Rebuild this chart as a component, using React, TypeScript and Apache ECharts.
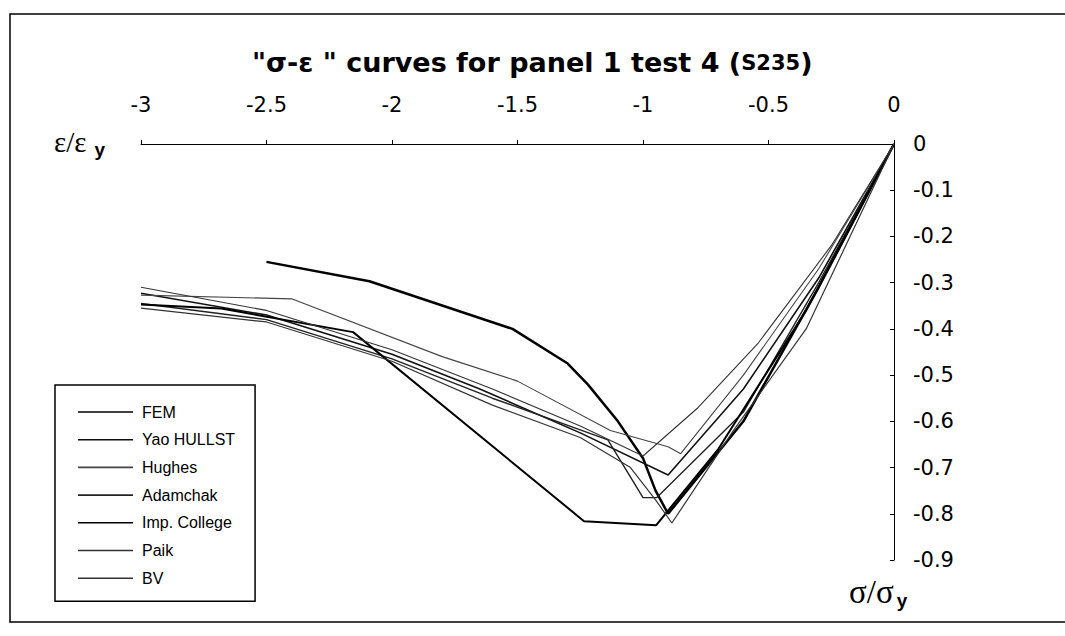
import React, { useEffect, useRef } from 'react';
import * as echarts from 'echarts';

// σ/σy (x) vs ε/εy (y) — points listed from origin outwards
const seriesNames = ['FEM', 'Yao HULLST', 'Hughes', 'Adamchak', 'Imp. College', 'Paik', 'BV'];

const femData: [number, number][] = [
  [0, 0], [-0.3, -0.31], [-0.6, -0.6], [-0.9, -0.8], [-0.95, -0.75], [-1.0, -0.68],
  [-1.1, -0.6], [-1.22, -0.52], [-1.3, -0.475], [-1.52, -0.4], [-2.09, -0.297], [-2.5, -0.255],
];
const yaoData: [number, number][] = [
  [0, 0], [-0.3, -0.29], [-0.6, -0.53], [-0.9, -0.716], [-1.25, -0.625], [-1.65, -0.53],
  [-2.0, -0.455], [-2.5, -0.37], [-3.0, -0.323],
];
const hughesData: [number, number][] = [
  [0, 0], [-0.3, -0.27], [-0.6, -0.5], [-0.85, -0.67], [-0.9, -0.655], [-1.13, -0.62],
  [-1.5, -0.513], [-1.8, -0.46], [-2.4, -0.335], [-3.0, -0.327],
];
const adamchakData: [number, number][] = [
  [0, 0], [-0.3, -0.3], [-0.6, -0.58], [-0.945, -0.765], [-1.0, -0.765], [-1.14, -0.64],
  [-1.6, -0.55], [-2.0, -0.465], [-2.5, -0.38], [-3.0, -0.345],
];
const impCollegeData: [number, number][] = [
  [0, 0], [-0.35, -0.36], [-0.7, -0.66], [-0.948, -0.825], [-1.235, -0.816], [-2.155, -0.407],
  [-2.68, -0.356], [-3.0, -0.347],
];
const paikData: [number, number][] = [
  [0, 0], [-0.25, -0.22], [-0.54, -0.43], [-0.78, -0.57], [-1.0, -0.675], [-1.25, -0.61],
  [-1.6, -0.53], [-2.0, -0.445], [-2.5, -0.36], [-3.0, -0.31],
];
const bvData: [number, number][] = [
  [0, 0], [-0.35, -0.4], [-0.64, -0.62], [-0.885, -0.82], [-0.95, -0.77], [-1.05, -0.7],
  [-1.25, -0.635], [-1.6, -0.565], [-2.0, -0.47], [-2.5, -0.385], [-3.0, -0.355],
];

const allData = [femData, yaoData, hughesData, adamchakData, impCollegeData, paikData, bvData];
const lineWidths = [2.5, 1.6, 1.1, 1.4, 2, 1.1, 1.2];
const lineColors = ['#000', '#111', '#444', '#222', '#000', '#333', '#333'];

const fmt = (v: number) => (Math.abs(v) < 1e-9 ? '0' : String(+v.toFixed(1)));

export default function App() {
  const ref = useRef<HTMLDivElement>(null);
  useEffect(() => {
    const chart = echarts.init(ref.current!, null, { renderer: 'svg' });
    chart.setOption({
      animation: false,
      backgroundColor: '#fff',
      title: {
        left: 247,
        top: 44,
        text: '{a|"σ-ε " curves for panel 1 test 4 (}{s|S235}{a|)}',
        textStyle: {
          rich: {
            a: { fontFamily: 'DejaVu Sans', fontWeight: 'bold', fontSize: 27, color: '#000' },
            s: { fontFamily: 'DejaVu Sans', fontWeight: 'bold', fontSize: 21, color: '#000' },
          },
        },
      },
      grid: { left: 141, top: 144, width: 753, height: 416 },
      xAxis: {
        type: 'value',
        position: 'top',
        min: -3,
        max: 0,
        interval: 0.5,
        axisLine: { onZero: false, lineStyle: { color: '#000', width: 1 } },
        axisTick: { show: true, length: 4, lineStyle: { color: '#000' } },
        axisLabel: { margin: 29, fontSize: 21, fontFamily: 'DejaVu Sans', color: '#000', formatter: fmt },
        splitLine: { show: false },
      },
      yAxis: {
        type: 'value',
        position: 'right',
        min: -0.9,
        max: 0,
        interval: 0.1,
        axisLine: { onZero: false, lineStyle: { color: '#000', width: 1 } },
        axisTick: { show: true, inside: true, length: 4, lineStyle: { color: '#000' } },
        axisLabel: { margin: 19, fontSize: 21, fontFamily: 'DejaVu Sans', color: '#000', formatter: fmt },
        splitLine: { show: false },
      },
      legend: {
        orient: 'vertical',
        left: 55,
        top: 385,
        data: seriesNames,
        icon: 'rect',
        itemWidth: 55,
        itemHeight: 1.6,
        itemGap: 11.7,
        padding: [19, 20, 15, 23],
        borderColor: '#000',
        borderWidth: 1.5,
        textStyle: {
          fontFamily: "'Liberation Sans', Arial",
          fontSize: 16,
          lineHeight: 16,
          color: '#000',
          padding: [0, 0, 0, 4],
        },
      },
      graphic: [
        {
          type: 'rect',
          shape: { x: 10, y: 14, width: 1070, height: 608 },
          style: { fill: 'none', stroke: '#000', lineWidth: 1.5 },
          silent: true,
        },
        {
          type: 'text',
          x: 54,
          y: 124,
          style: {
            text: '{a|ε/ε}{b|y}',
            rich: {
              a: { fontFamily: 'Liberation Serif', fontSize: 29, fill: '#000' },
              b: { fontFamily: 'Liberation Sans', fontWeight: 'bold', fontSize: 19, fill: '#000', padding: [16, 0, 0, 8] },
            },
          },
        },
        {
          type: 'text',
          x: 849,
          y: 573,
          style: {
            text: '{a|σ/σ}{b|y}',
            rich: {
              a: { fontFamily: 'Liberation Serif', fontSize: 33, fill: '#000' },
              b: { fontFamily: 'Liberation Sans', fontWeight: 'bold', fontSize: 19, fill: '#000', padding: [18, 0, 0, 3] },
            },
          },
        },
      ],
      series: allData.map((d, i) => ({
        name: seriesNames[i],
        type: 'line',
        data: d,
        showSymbol: false,
        symbol: 'none',
        lineStyle: { color: lineColors[i], width: lineWidths[i] },
        itemStyle: { color: lineColors[i] },
      })),
    });
    return () => chart.dispose();
  }, []);
  return (
    <div
      ref={ref}
      style={{ position: 'absolute', left: 0, top: 0, width: 1065, height: 636, background: '#fff' }}
    />
  );
}
